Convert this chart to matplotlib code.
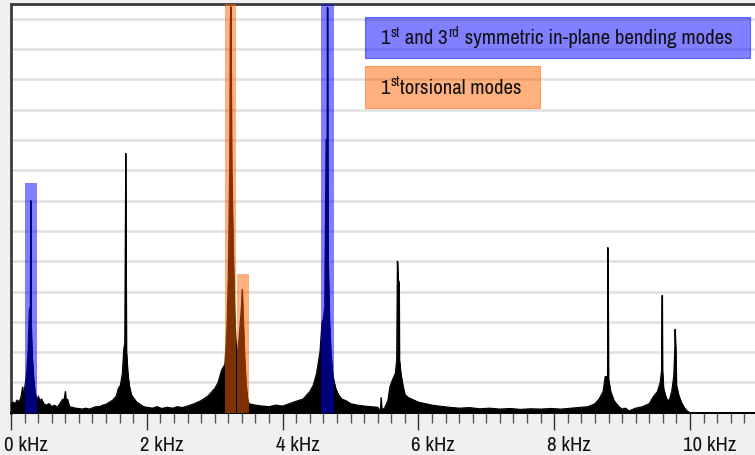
import matplotlib
matplotlib.use("Agg")
import matplotlib.pyplot as plt
from matplotlib import font_manager as fm
from matplotlib.patches import Rectangle
from matplotlib.transforms import ScaledTranslation

# spectrum: frequency in kHz, amplitude in grid units
freq_khz = [
    0.00, 0.03, 0.06, 0.09, 0.12, 0.15, 0.17, 0.18, 0.20, 0.23, 0.25, 0.27,
    0.285, 0.29, 0.295, 0.30, 0.31, 0.33, 0.35, 0.37, 0.38, 0.40, 0.42, 0.45,
    0.48, 0.52, 0.56, 0.60, 0.64, 0.68, 0.72, 0.76, 0.78, 0.80, 0.81, 0.83,
    0.86, 0.90, 0.95, 1.00, 1.05, 1.10, 1.15, 1.20, 1.25, 1.30, 1.35, 1.40,
    1.45, 1.50, 1.55, 1.58, 1.61, 1.64, 1.66, 1.675, 1.68, 1.69, 1.695, 1.70,
    1.72, 1.74, 1.77, 1.80, 1.85, 1.90, 1.95, 2.00, 2.08, 2.15, 2.22, 2.30,
    2.38, 2.45, 2.52, 2.60, 2.70, 2.80, 2.90, 3.00, 3.05, 3.10, 3.15, 3.18,
    3.20, 3.22, 3.23, 3.235, 3.24, 3.25, 3.27, 3.29, 3.31, 3.33, 3.36, 3.39,
    3.405, 3.42, 3.44, 3.46, 3.48, 3.50, 3.60, 3.70, 3.80, 3.90, 4.00, 4.10,
    4.20, 4.30, 4.40, 4.45, 4.50, 4.55, 4.58, 4.60, 4.62, 4.64, 4.655, 4.66,
    4.665, 4.67, 4.69, 4.71, 4.74, 4.78, 4.82, 4.87, 4.93, 5.00, 5.10, 5.20,
    5.30, 5.40, 5.44, 5.45, 5.46, 5.50, 5.55, 5.58, 5.62, 5.66, 5.68, 5.69,
    5.70, 5.715, 5.72, 5.74, 5.77, 5.80, 5.85, 5.90, 6.00, 6.10, 6.20, 6.30,
    6.45, 6.60, 6.75, 6.90, 7.05, 7.20, 7.35, 7.50, 7.65, 7.80, 7.95, 8.10,
    8.25, 8.40, 8.50, 8.60, 8.66, 8.72, 8.75, 8.785, 8.79, 8.80, 8.83, 8.88,
    8.95, 9.00, 9.05, 9.10, 9.20, 9.30, 9.40, 9.45, 9.52, 9.56, 9.58, 9.59,
    9.595, 9.61, 9.64, 9.67, 9.70, 9.73, 9.76, 9.775, 9.78, 9.79, 9.80, 9.83,
    9.87, 9.92, 9.96, 10.00, 10.96,
]
amplitude = [
    0.30, 0.35, 0.30, 0.42, 0.35, 0.55, 0.85, 0.50, 0.80, 1.30, 2.00, 3.40,
    3.50, 7.00, 3.00, 2.60, 1.90, 1.20, 0.70, 0.50, 0.30, 0.55, 0.40, 0.45,
    0.30, 0.25, 0.30, 0.20, 0.25, 0.18, 0.30, 0.45, 0.40, 0.70, 0.30, 0.45,
    0.20, 0.18, 0.15, 0.14, 0.12, 0.15, 0.12, 0.16, 0.20, 0.20, 0.25, 0.28,
    0.35, 0.42, 0.55, 0.80, 0.90, 1.30, 2.10, 2.30, 4.50, 8.56, 4.40, 2.00,
    1.30, 0.90, 0.60, 0.50, 0.35, 0.28, 0.20, 0.18, 0.15, 0.20, 0.14, 0.18,
    0.15, 0.20, 0.17, 0.22, 0.30, 0.40, 0.55, 0.80, 1.00, 1.40, 1.60, 2.80,
    4.50, 8.00, 12.86, 13.40, 12.00, 8.00, 5.50, 3.50, 2.30, 1.90, 2.50, 3.40,
    4.07, 3.00, 1.80, 1.00, 0.50, 0.30, 0.25, 0.22, 0.20, 0.25, 0.22, 0.30,
    0.38, 0.45, 0.70, 0.90, 1.30, 2.00, 3.00, 3.10, 3.50, 9.00, 9.06, 13.38,
    9.00, 5.00, 3.00, 2.00, 1.20, 0.80, 0.60, 0.45, 0.40, 0.30, 0.25, 0.22,
    0.20, 0.18, 0.05, 0.50, 0.10, 0.15, 0.40, 0.86, 1.10, 1.30, 1.74, 5.00,
    4.40, 4.30, 1.74, 1.30, 0.90, 0.60, 0.50, 0.45, 0.35, 0.30, 0.25, 0.22,
    0.18, 0.15, 0.17, 0.13, 0.15, 0.12, 0.14, 0.11, 0.13, 0.12, 0.14, 0.12,
    0.15, 0.18, 0.20, 0.30, 0.45, 0.70, 1.19, 1.20, 5.45, 1.10, 0.70, 0.40,
    0.20, 0.12, 0.15, 0.06, 0.15, 0.20, 0.30, 0.50, 0.70, 1.00, 1.38, 3.87,
    1.38, 0.80, 0.55, 0.38, 0.45, 0.70, 1.20, 2.07, 2.75, 2.07, 0.90, 0.60,
    0.35, 0.15, 0.05, 0.00, 0.00,
]

# highlighted mode bands
band_lo = [0.21, 3.15, 3.33, 4.57]
band_hi = [0.38, 3.31, 3.50, 4.75]
band_top = [7.57, 14.0, 4.57, 14.0]
band_color = ['#0000ff', '#ff6200', '#ff6200', '#0000ff']

tick_khz = [0, 2, 4, 6, 8, 10]
tick_text = ['0 kHz', '2 kHz', '4 kHz', '6 kHz', '8 kHz', '10 kHz']

# legend entries as (text, superscript?) pieces
legend_pieces = [
    [('1', False), ('st', True), (' and 3', False), ('rd', True),
     (' symmetric in-plane bending modes', False)],
    [('1', False), ('st', True), ('torsional modes', False)],
]
legend_color = ['#0000ff', '#ff6200']

# look for a narrow sans face, the original uses one
family, stretch = 'Liberation Sans', 'normal'
found = False
for f in fm.fontManager.ttflist:
    if f.style != 'normal' or str(f.weight) not in ('400', 'normal', 'regular'):
        continue
    if 'Narrow' in f.name or 'Condensed' in f.name:
        family, stretch, found = f.name, f.stretch, True
        break
    if f.stretch in ('condensed', 'semi-condensed') and not found:
        family, stretch, found = f.name, f.stretch, True
plt.rcParams['font.family'] = [family, 'Liberation Sans', 'DejaVu Sans']
plt.rcParams['font.stretch'] = stretch
tick_size = 15 if found else 10.5
legend_size = 15 if found else 12

W, H = 755, 455
fig = plt.figure(figsize=(W / 100, H / 100), dpi=100, facecolor='#f0f0f0')
ax = fig.add_axes([11 / W, 42.3 / H, 744 / W, 408.7 / H])
ax.set_facecolor('white')

ax.fill_between(freq_khz, 0, amplitude, color='black', lw=0.6, zorder=3)
ax.plot(freq_khz, amplitude, color='black', lw=0.8, zorder=3)

for lo, hi, top, c in zip(band_lo, band_hi, band_top, band_color):
    ax.bar(lo, top, width=hi - lo, align='edge', color=c, alpha=0.5,
           lw=0, zorder=4)

ax.set_xlim(0, 744 / 67.9)
ax.set_ylim(0, 13.49)

ax.set_yticks(range(1, 14))
ax.set_yticklabels([])
ax.tick_params(axis='y', length=0)
ax.yaxis.grid(True, color='#e0e0e0', lw=1.8)
ax.set_axisbelow(True)

ax.set_xticks(tick_khz)
ax.set_xticklabels(tick_text, fontsize=tick_size, ha='left', color='#111111')
ax.set_xticks([x / 5 for x in range(0, 55)], minor=True)
ax.tick_params(axis='x', which='major', length=12, width=1, color='#333333', pad=5)
ax.tick_params(axis='x', which='minor', length=7, width=1, color='#555555')
shift = ScaledTranslation(-7 / 100, 0, fig.dpi_scale_trans)
for lab in ax.get_xticklabels():
    lab.set_transform(lab.get_transform() + shift)

for side in ['top', 'left']:
    ax.spines[side].set_color('#3c3c3c')
    ax.spines[side].set_linewidth(2)
ax.spines['bottom'].set_color('black')
ax.spines['bottom'].set_linewidth(1.3)
ax.spines['right'].set_visible(False)

# legend boxes (pixel layout from the picture)
boxes = [(365, 16.7, 750, 58.3), (365, 66, 540, 107.7)]
for (x0, y0, x1, y1), pieces, c in zip(boxes, legend_pieces, legend_color):
    ax.add_patch(Rectangle((x0 / W, 1 - y1 / H), (x1 - x0) / W, (y1 - y0) / H,
                           transform=fig.transFigure, facecolor=c, alpha=0.5,
                           edgecolor=c, lw=0.8, zorder=5, clip_on=False))
    base = 1 - ((y0 + y1) / 2 + 7) / H
    prev = None
    for s, sup in pieces:
        size = legend_size * 0.7 if sup else legend_size
        rise = legend_size * 0.36 if sup else 0
        if prev is None:
            prev = ax.annotate(s, xy=(380 / W, base), xycoords='figure fraction',
                               fontsize=size, color='#111111', va='baseline',
                               ha='left', zorder=6, annotation_clip=False)
        else:
            prev = ax.annotate(s, xy=(1, base), xycoords=(prev, 'figure fraction'),
                               xytext=(0.5, rise), textcoords='offset points',
                               fontsize=size, color='#111111', va='baseline',
                               ha='left', zorder=6, annotation_clip=False)

fig.savefig('out.png', dpi=100, facecolor=fig.get_facecolor())
